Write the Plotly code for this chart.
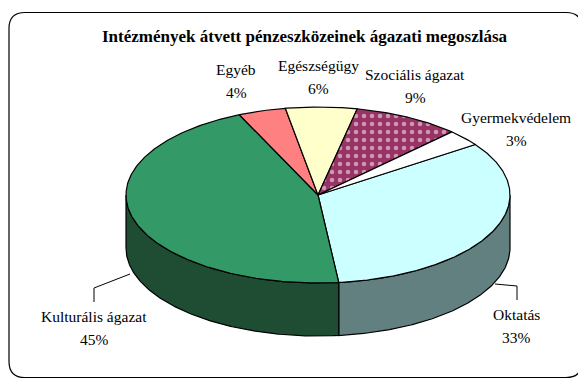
import numpy as np
import plotly.graph_objects as go

# Sector shares of transferred funds (percent)
labels = ["Oktatás", "Kulturális ágazat", "Egyéb", "Egészségügy",
          "Szociális ágazat", "Gyermekvédelem"]
values = [33, 45, 4, 6, 9, 3]

top_colors = ["#CCFFFF", "#339966", "#FF8080", "#FFFFCC", "#993366", "#FFFFFF"]
side_colors = ["#638080", "#1E4D33", "#CC6666", "#CCCCA3", "#7A2952", "#CCCCCC"]

TITLE = "Intézmények átvett pénzeszközeinek ágazati megoszlása"

# Pie geometry (pixel space), tilted ellipse with depth
CX, CY = 318, 195
RX, RY = 192, 88
DEPTH = 53
START = 55.0  # degrees clockwise from 12 o'clock

W, H = 578, 381
FONT = "'Liberation Serif', 'Times New Roman', Times, serif"


def pt(theta_deg, dy=0.0):
    t = np.radians(theta_deg)
    return CX + RX * np.sin(t), CY - RY * np.cos(t) + dy


def arc(a0, a1, dy=0.0):
    n = max(int(abs(a1 - a0) * 2), 4)
    th = np.linspace(a0, a1, n)
    return pt(th, dy)


fig = go.Figure()

total = float(sum(values))
angles = []
a = START
for v in values:
    span = 360.0 * v / total
    angles.append((a, a + span))
    a += span

# Side walls: only the front half (90°..270°) is visible
for (a0, a1), col in zip(angles, side_colors):
    for shift in (0, 360):
        s0, s1 = a0 - shift, a1 - shift
        lo, hi = max(s0, 90.0), min(s1, 270.0)
        if hi > lo:
            xt, yt = arc(lo, hi)
            xb, yb = arc(hi, lo, DEPTH)
            xs = np.concatenate([xt, xb, xt[:1]])
            ys = np.concatenate([yt, yb, yt[:1]])
            fig.add_trace(go.Scatter(
                x=xs, y=ys, mode="lines", fill="toself", fillcolor=col,
                line=dict(color="black", width=1.2), hoverinfo="skip",
                showlegend=False))

# Top faces
for i, ((a0, a1), col) in enumerate(zip(angles, top_colors)):
    xa, ya = arc(a0, a1)
    xs = np.concatenate([[CX], xa, [CX]])
    ys = np.concatenate([[CY], ya, [CY]])
    kw = dict(fillcolor=col)
    if labels[i] == "Szociális ágazat":
        kw = dict(fillpattern=dict(shape=".", fgcolor="white", bgcolor=col,
                                   size=8, solidity=0.25))
    fig.add_trace(go.Scatter(
        x=xs, y=ys, mode="lines", fill="toself",
        line=dict(color="black", width=1.2), hoverinfo="skip",
        showlegend=False, **kw))

# Data labels (name on first line, share below)
label_pos = {
    "Egyéb": (236, 69),
    "Egészségügy": (318, 65),
    "Szociális ágazat": (415, 74),
    "Gyermekvédelem": (516, 117),
    "Oktatás": (516, 314),
    "Kulturális ágazat": (94, 316),
}
for name, v in zip(labels, values):
    x0, y0 = label_pos[name]
    fig.add_annotation(x=x0, y=y0, text=name, showarrow=False,
                       font=dict(family=FONT, size=15.5, color="black"),
                       xanchor="center", yanchor="middle")
    fig.add_annotation(x=x0, y=y0 + 23, text=f"{v}%", showarrow=False,
                       font=dict(family=FONT, size=15.5, color="black"),
                       xanchor="center", yanchor="middle")

# Leader lines for the two lower labels
leaders = [
    [(94, 302), (94, 288), (130, 274)],
    [(517, 300), (517, 286), (495, 284)],
]
for pts in leaders:
    path = "M " + " L ".join(f"{x},{y}" for x, y in pts)
    fig.add_shape(type="path", path=path, xref="x", yref="y",
                  line=dict(color="black", width=1))

# Title
fig.add_annotation(x=305, y=36, text=f"<b>{TITLE}</b>", showarrow=False,
                   font=dict(family=FONT, size=17, color="black"),
                   xanchor="center", yanchor="middle")

# Rounded chart-area border
L, T, R, B, r = 9, 12.5, 582, 377.5, 16
frame = (f"M {L+r},{T} L {R-r},{T} Q {R},{T} {R},{T+r} L {R},{B-r} "
         f"Q {R},{B} {R-r},{B} L {L+r},{B} Q {L},{B} {L},{B-r} "
         f"L {L},{T+r} Q {L},{T} {L+r},{T} Z")
fig.add_shape(type="path", path=frame, xref="x", yref="y",
              line=dict(color="black", width=1.2), layer="below")

fig.update_layout(
    width=W, height=H,
    margin=dict(l=0, r=0, t=0, b=0),
    paper_bgcolor="white", plot_bgcolor="white",
    xaxis=dict(range=[0, W], visible=False, fixedrange=True),
    yaxis=dict(range=[H, 0], visible=False, fixedrange=True),
    showlegend=False,
)

fig.write_html("out.html", config={"displayModeBar": False})
